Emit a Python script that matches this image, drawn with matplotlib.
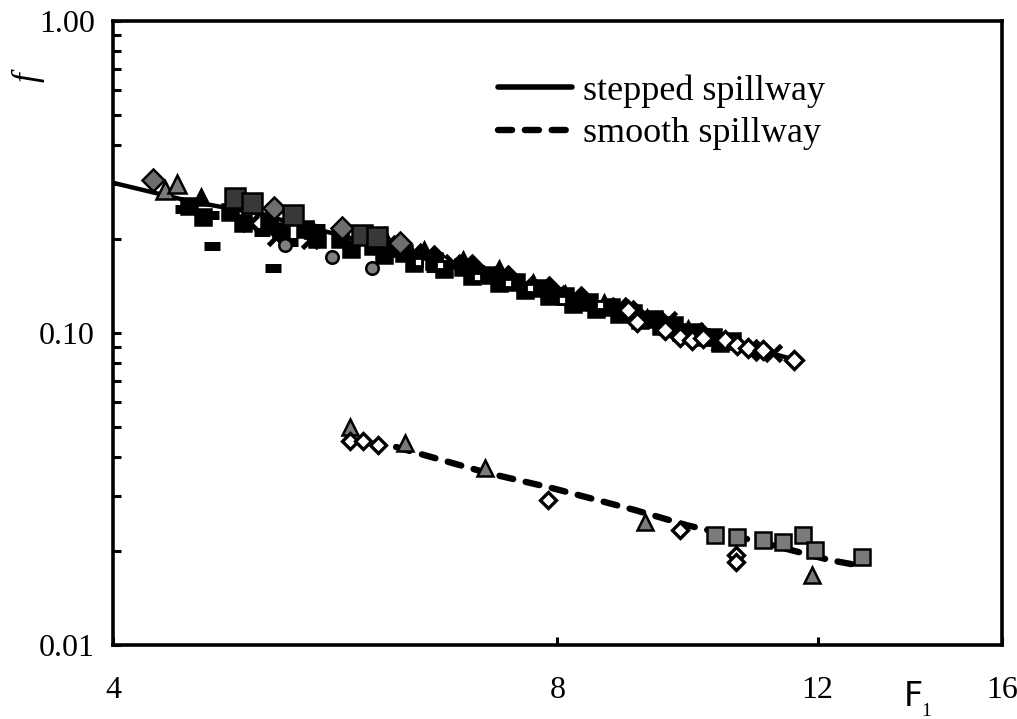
import numpy as np
import matplotlib.pyplot as plt
from matplotlib.lines import Line2D
from matplotlib.ticker import FixedLocator, NullFormatter, NullLocator

plt.rcParams['font.family'] = ['Liberation Serif', 'DejaVu Serif']

# fitted curves
step_F = [4.0, 4.5, 5.0, 6.0, 7.0, 8.0, 9.0, 10.0, 11.6]
step_f = [0.303, 0.265, 0.242, 0.193, 0.157, 0.131, 0.115, 0.099, 0.082]
smooth_F = [6.22, 7.17, 7.92, 9.02, 9.79, 10.96, 12.24, 12.79]
smooth_f = [0.0431, 0.0356, 0.0319, 0.0271, 0.0242, 0.0214, 0.0187, 0.0180]

# stepped spillway data
st_tri_gray_F = [4.34, 4.42]
st_tri_gray_f = [0.287, 0.300]
st_dia_gray_F = [4.26, 5.14, 5.72, 6.26]
st_dia_gray_f = [0.309, 0.252, 0.217, 0.195]
st_sq_dark_F = [4.84, 4.97, 5.30, 5.90, 6.04]
st_sq_dark_f = [0.271, 0.261, 0.239, 0.206, 0.203]
st_circ_F = [5.23, 5.63, 5.99]
st_circ_f = [0.191, 0.175, 0.162]
st_tri_blk_F = [4.59, 5.46, 6.1, 6.5, 6.9, 7.3, 7.7, 8.1, 8.6, 9.2, 9.8, 10.3]
st_tri_blk_f = [0.273, 0.214, 0.205, 0.185, 0.172, 0.160, 0.145, 0.133, 0.125, 0.112, 0.103, 0.094]
st_sq_blk_F = [4.5, 4.8, 5.1, 5.4, 5.7, 6.0, 6.3, 6.6, 6.9, 7.2, 7.5, 7.8, 8.1, 8.4,
               8.7, 9.0, 9.3, 9.6, 9.9, 10.2, 10.5,
               4.6, 4.9, 5.2, 5.5, 5.8, 6.1, 6.4, 6.7, 7.0, 7.3, 7.6, 7.9, 8.2, 8.5,
               8.8, 9.1, 9.4, 9.7, 10.0, 10.3]
st_sq_blk_f = [0.255, 0.245, 0.228, 0.215, 0.200, 0.190, 0.180, 0.170, 0.163, 0.153, 0.146,
               0.139, 0.131, 0.126, 0.121, 0.116, 0.111, 0.106, 0.101, 0.097, 0.094,
               0.235, 0.225, 0.212, 0.200, 0.186, 0.178, 0.168, 0.160, 0.152, 0.145, 0.137,
               0.131, 0.124, 0.119, 0.115, 0.110, 0.105, 0.101, 0.097, 0.093]
st_dia_blk_F = [6.2, 6.6, 7.0, 7.4, 7.9, 8.3, 9.0, 9.6, 10.0, 10.9]
st_dia_blk_f = [0.190, 0.176, 0.165, 0.152, 0.140, 0.130, 0.118, 0.105, 0.100, 0.088]
st_x_F = [4.95, 5.16, 5.44, 6.4, 6.8, 7.2, 7.6, 8.0, 8.8, 9.5, 11.2]
st_x_f = [0.225, 0.203, 0.199, 0.182, 0.168, 0.155, 0.143, 0.133, 0.122, 0.110, 0.086]
st_dash_F = [4.46, 4.66, 4.67, 5.05, 5.13, 5.27, 5.50, 6.0, 6.6, 7.0, 7.8, 8.5, 9.3]
st_dash_f = [0.250, 0.239, 0.190, 0.210, 0.162, 0.196, 0.217, 0.185, 0.162, 0.152, 0.138, 0.120, 0.110]
st_open_sq_F = [6.44, 6.66, 7.06, 7.41, 7.67, 8.06, 8.55]
st_open_sq_f = [0.169, 0.165, 0.151, 0.1446, 0.1394, 0.1276, 0.123]
st_open_dia_F = [8.93, 9.06, 9.46, 9.69, 9.87, 10.04, 10.39, 10.59, 10.76, 11.03, 11.56]
st_open_dia_f = [0.1186, 0.1084, 0.102, 0.097, 0.095, 0.0965, 0.095, 0.0916, 0.0895, 0.0882, 0.0819]

# smooth spillway data
sm_tri_F = [5.79, 6.31, 7.15, 9.17, 11.9]
sm_tri_f = [0.050, 0.0444, 0.0369, 0.0248, 0.0168]
sm_dia_F = [5.79, 5.91, 6.05, 7.88, 9.69, 10.57, 10.57]
sm_dia_f = [0.0451, 0.0451, 0.0438, 0.0292, 0.0234, 0.0194, 0.0185]
sm_sq_F = [10.23, 10.59, 11.03, 11.38, 11.74, 11.96, 12.87]
sm_sq_f = [0.0225, 0.0222, 0.0217, 0.0214, 0.0225, 0.0202, 0.0191]

fig = plt.figure(figsize=(10.17, 7.19), dpi=100)
ax = fig.add_axes([113 / 1017, 74 / 719, 889 / 1017, 624 / 719])
ax.set_xscale('log')
ax.set_yscale('log')

dash = dict(color='black', lw=4.6, dashes=(2.2, 2.0), dash_capstyle='round')
ax.plot(step_F, step_f, color='black', lw=3.2, zorder=2)
ax.plot(smooth_F, smooth_f, zorder=4, **dash)

ek = dict(linestyle='none', markeredgecolor='black', markeredgewidth=1.8)
# stepped
ax.plot(st_sq_blk_F, st_sq_blk_f, marker='s', ms=11, markerfacecolor='black', zorder=3, **ek)
ax.plot(st_tri_blk_F, st_tri_blk_f, marker='^', ms=12, markerfacecolor='black', zorder=3, **ek)
ax.plot(st_dia_blk_F, st_dia_blk_f, marker='D', ms=10, markerfacecolor='black', zorder=3, **ek)
ax.plot(st_x_F, st_x_f, marker='x', ms=11, color='black', mew=3.5, linestyle='none', zorder=3)
ax.plot(st_dash_F, st_dash_f, marker='_', ms=12, color='black', mew=6.5, linestyle='none', zorder=3)
ax.plot(st_tri_gray_F, st_tri_gray_f, marker='^', ms=13, markerfacecolor='#7a7a7a', zorder=3, **ek)
ax.plot(st_dia_gray_F, st_dia_gray_f, marker='D', ms=11, markerfacecolor='#6e6e6e', zorder=3, **ek)
ax.plot(st_sq_dark_F, st_sq_dark_f, marker='s', ms=15, markerfacecolor='#383838', zorder=3, **ek)
ax.plot(st_circ_F, st_circ_f, marker='o', ms=9, markerfacecolor='#808080', zorder=3, **ek)
ax.plot(st_open_sq_F, st_open_sq_f, marker='s', ms=6, markerfacecolor='white', zorder=3,
        linestyle='none', markeredgecolor='black', markeredgewidth=2)
ax.plot(st_open_dia_F, st_open_dia_f, marker='D', ms=9, markerfacecolor='white', zorder=3,
        linestyle='none', markeredgecolor='black', markeredgewidth=2.4)
# smooth
ax.plot(sm_tri_F, sm_tri_f, marker='^', ms=11, markerfacecolor='#7a7a7a', zorder=5, **ek)
ax.plot(sm_dia_F, sm_dia_f, marker='D', ms=8, markerfacecolor='white', zorder=5,
        linestyle='none', markeredgecolor='black', markeredgewidth=2.4)
ax.plot(sm_sq_F, sm_sq_f, marker='s', ms=11, markerfacecolor='#7a7a7a', zorder=5, **ek)

ax.set_xlim(4, 16)
ax.set_ylim(0.01, 1)
ax.xaxis.set_major_locator(FixedLocator([4, 8, 12, 16]))
ax.set_xticklabels(['4', '8', '12', '16'])
ax.xaxis.set_minor_locator(NullLocator())
ax.yaxis.set_major_locator(FixedLocator([0.01, 0.1, 1.0]))
ax.set_yticklabels(['0.01', '0.10', '1.00'])
minor_y = [m * d for d in (0.01, 0.1) for m in range(2, 10)]
ax.yaxis.set_minor_locator(FixedLocator(minor_y))
ax.yaxis.set_minor_formatter(NullFormatter())

ax.tick_params(axis='both', which='both', direction='in', width=2.2, labelsize=23)
ax.tick_params(axis='both', which='major', length=6)
ax.tick_params(axis='y', which='minor', length=6)
ax.tick_params(axis='x', pad=22)
ax.tick_params(axis='y', pad=13)
for s in ax.spines.values():
    s.set_linewidth(2.6)

fig.text(28 / 1017, 1 - 77 / 719, 'f', rotation=90, style='italic', fontsize=25,
         ha='center', va='center')
fig.text(913 / 1017, 1 - 697 / 719, 'F', family='DejaVu Sans', fontsize=24,
         ha='center', va='center')
fig.text(926 / 1017, 1 - 711 / 719, '1', fontsize=14, ha='center', va='center')

handles = [Line2D([], [], color='black', lw=4.0, solid_capstyle='round'),
           Line2D([], [], **dash)]
ax.legend(handles, ['stepped spillway', 'smooth spillway'], loc='upper left',
          bbox_to_anchor=(0.433, 0.915), frameon=False, fontsize=26,
          handlelength=2.05, handletextpad=0.3, labelspacing=0.26,
          borderaxespad=0, borderpad=0)

fig.savefig('out.png', dpi=100)
